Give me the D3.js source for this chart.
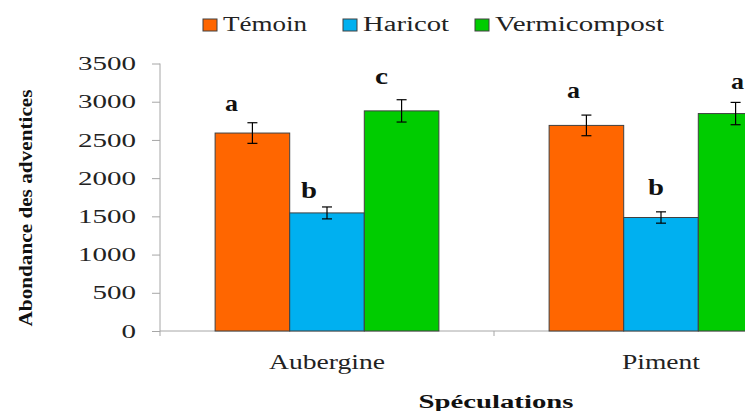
<!DOCTYPE html>
<html>
<head>
<meta charset="utf-8">
<script src="https://d3js.org/d3.v7.min.js"></script>
<style>
  body { margin: 0; background: #fff; }
  svg text { font-family: "Liberation Serif", "Times New Roman", Tinos, "DejaVu Serif", serif; }
</style>
</head>
<body>
<svg id="chart" width="745" height="411"></svg>
<script>
// data
const categories = ['Aubergine', 'Piment'];
const series = ['Témoin', 'Haricot', 'Vermicompost'];
const colors = ['#ff6600', '#00b0f0', '#00cc00'];
const values = [[2590, 1545, 2880], [2690, 1485, 2845]];
const errors = [[135, 78, 146], [135, 74, 146]];
const letters = [['a', 'b', 'c'], ['a', 'b', 'a']];
const yTicks = [0, 500, 1000, 1500, 2000, 2500, 3000, 3500];

// hand placement of the significance letters (dx from bar centre, gap above error bar)
const letterDx = [[-21, -18, -20], [-13, -5, 2]];
const letterGap = [[12, 9, 16], [17, 17, 13]];

const svg = d3.select('#chart');

const x0 = d3.scaleBand().domain(categories).range([160, 828]);
const bw = x0.bandwidth();
const x1 = d3.scaleBand().domain(series).range([bw * 0.165, bw * 0.835]);
const y = d3.scaleLinear().domain([0, 3500]).range([331, 63.5]);

// y axis
const yAxis = svg.append('g')
    .attr('transform', 'translate(160,0)')
    .call(d3.axisLeft(y).tickValues(yTicks).tickFormat(d3.format('d'))
        .tickSize(8).tickPadding(16).tickSizeOuter(0));
yAxis.attr('font-family', null);
yAxis.select('.domain').remove();
yAxis.selectAll('.tick line').attr('stroke', '#a6a6a6');
yAxis.selectAll('.tick text')
    .attr('font-size', 19)
    .attr('fill', '#222')
    .attr('textLength', d => String(d).length * 14.5)
    .attr('lengthAdjust', 'spacingAndGlyphs');
svg.append('line')
    .attr('x1', 160).attr('x2', 160)
    .attr('y1', y(3500)).attr('y2', 336)
    .attr('stroke', '#a6a6a6');

// x axis
svg.append('line')
    .attr('x1', 160).attr('x2', 745)
    .attr('y1', y(0)).attr('y2', y(0))
    .attr('stroke', '#a6a6a6');
svg.selectAll('.xtick')
    .data(categories)
    .enter().append('line')
    .attr('class', 'xtick')
    .attr('x1', d => x0(d) + bw).attr('x2', d => x0(d) + bw)
    .attr('y1', y(0)).attr('y2', y(0) + 5)
    .attr('stroke', '#a6a6a6');

const catWidth = { 'Aubergine': 116, 'Piment': 78 };
svg.selectAll('.xlabel')
    .data(categories)
    .enter().append('text')
    .attr('class', 'xlabel')
    .attr('x', d => x0(d) + bw / 2)
    .attr('y', 369)
    .attr('text-anchor', 'middle')
    .attr('font-size', 21)
    .attr('fill', '#222')
    .attr('textLength', d => catWidth[d])
    .attr('lengthAdjust', 'spacingAndGlyphs')
    .text(d => d);

// bars
const groups = svg.selectAll('.grp')
    .data(categories)
    .enter().append('g')
    .attr('class', 'grp')
    .attr('transform', d => 'translate(' + x0(d) + ',0)');

groups.each(function(cat, ci) {
    const g = d3.select(this);
    series.forEach(function(s, si) {
        const v = values[ci][si];
        const e = errors[ci][si];
        const cx = x1(s) + x1.bandwidth() / 2;
        g.append('rect')
            .attr('x', x1(s))
            .attr('y', y(v))
            .attr('width', x1.bandwidth())
            .attr('height', y(0) - y(v))
            .attr('fill', colors[si])
            .attr('stroke', '#404040')
            .attr('stroke-width', 1);
        // error bar
        g.append('line')
            .attr('x1', cx).attr('x2', cx)
            .attr('y1', y(v + e)).attr('y2', y(v - e))
            .attr('stroke', '#000').attr('stroke-width', 1.2);
        [v + e, v - e].forEach(function(val) {
            g.append('line')
                .attr('x1', cx - 5).attr('x2', cx + 5)
                .attr('y1', y(val)).attr('y2', y(val))
                .attr('stroke', '#000').attr('stroke-width', 1.2);
        });
        // letter
        g.append('text')
            .attr('x', cx + letterDx[ci][si])
            .attr('y', y(v + e) - letterGap[ci][si])
            .attr('text-anchor', 'middle')
            .attr('font-size', 24)
            .attr('font-weight', 'bold')
            .attr('fill', '#111')
            .attr('textLength', letters[ci][si] === 'b' ? 16 : 13)
            .attr('lengthAdjust', 'spacingAndGlyphs')
            .text(letters[ci][si]);
    });
});

// legend
const legX = [203, 343, 475];
const legW = [84, 86, 169];
series.forEach(function(s, i) {
    svg.append('rect')
        .attr('x', legX[i]).attr('y', 19)
        .attr('width', 14).attr('height', 12)
        .attr('fill', colors[i])
        .attr('stroke', '#404040');
    svg.append('text')
        .attr('x', legX[i] + 20)
        .attr('y', 31)
        .attr('font-size', 20)
        .attr('fill', '#222')
        .attr('textLength', legW[i])
        .attr('lengthAdjust', 'spacingAndGlyphs')
        .text(s);
});

// axis titles
svg.append('text')
    .attr('transform', 'translate(32,208) rotate(-90)')
    .attr('text-anchor', 'middle')
    .attr('font-size', 19)
    .attr('font-weight', 'bold')
    .attr('fill', '#111')
    .attr('textLength', 237)
    .attr('lengthAdjust', 'spacingAndGlyphs')
    .text('Abondance des adventices');

svg.append('text')
    .attr('x', 496)
    .attr('y', 408)
    .attr('text-anchor', 'middle')
    .attr('font-size', 18)
    .attr('font-weight', 'bold')
    .attr('fill', '#111')
    .attr('textLength', 155)
    .attr('lengthAdjust', 'spacingAndGlyphs')
    .text('Spéculations');
</script>
</body>
</html>
